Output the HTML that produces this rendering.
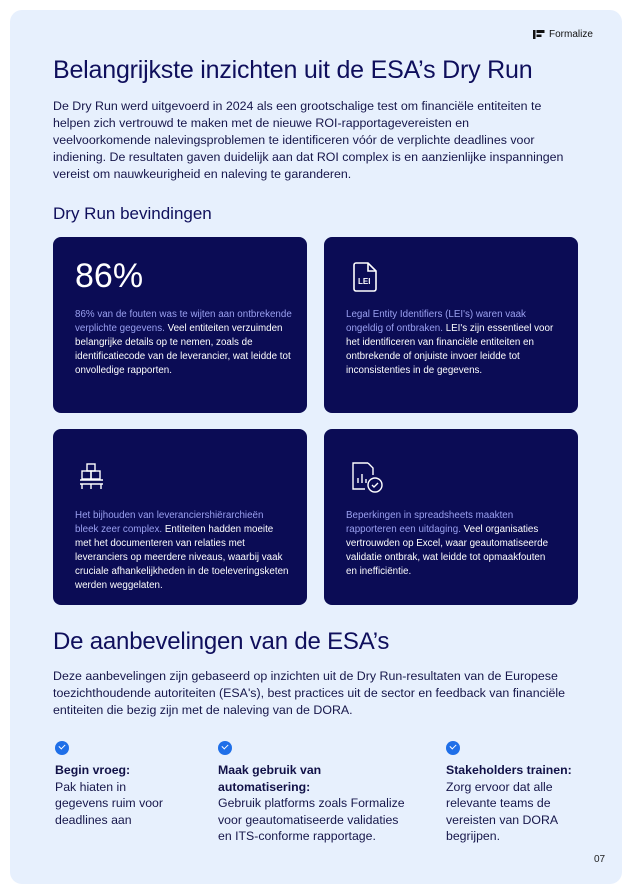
<!DOCTYPE html>
<html><head><meta charset="utf-8"><style>
*{margin:0;padding:0;box-sizing:border-box}
body{width:632px;height:894px;background:#fff;font-family:"Liberation Sans",sans-serif;color:#13134f;position:relative;overflow:hidden}
.page{position:absolute;left:10px;top:10px;width:612px;height:874px;background:#e7f0fd;border-radius:12px}
.a{position:absolute}
h1{font-weight:400;font-size:25px;color:#0f0f5c;letter-spacing:-0.2px}
.p{font-size:12.4px;line-height:17px;color:#16164a}
.card{position:absolute;background:#0b0c55;border-radius:8px;width:254px;height:176px}
.ct{position:absolute;left:22px;width:210px;font-size:9.8px;line-height:14px;color:#fff}
.ct span{color:#9aa0f0}
.chk{position:absolute;width:14px;height:14px;border-radius:50%;background:#1f6fe8}
.chk:after{content:"";position:absolute;left:4px;top:3px;width:5px;height:3px;border-left:1.6px solid #fff;border-bottom:1.6px solid #fff;transform:rotate(-45deg)}
.col{position:absolute;top:762px;font-size:12.3px;line-height:16.5px;color:#16164a}
.col b{color:#111147}
</style></head><body>
<div class="page"></div>
<div class="a" style="left:533px;top:29px;font-size:10px;color:#111;display:flex;align-items:center;gap:4px">
<svg width="12" height="9" viewBox="0 0 12 9"><rect x="0" y="0" width="2.5" height="9" fill="#111"/><rect x="3.5" y="0" width="8" height="3" fill="#111"/><rect x="3.5" y="4.5" width="5" height="2.5" fill="#111"/></svg>Formalize</div>
<h1 class="a" style="left:53px;top:56px">Belangrijkste inzichten uit de ESA’s Dry Run</h1>
<div class="a p" style="left:53px;top:98px;width:512px">De Dry Run werd uitgevoerd in 2024 als een grootschalige test om financiële entiteiten te helpen zich vertrouwd te maken met de nieuwe ROI-rapportagevereisten en veelvoorkomende nalevingsproblemen te identificeren vóór de verplichte deadlines voor indiening. De resultaten gaven duidelijk aan dat ROI complex is en aanzienlijke inspanningen vereist om nauwkeurigheid en naleving te garanderen.</div>
<div class="a" style="left:53px;top:204px;font-size:17px;color:#0f0f5c">Dry Run bevindingen</div>

<div class="card" style="left:53px;top:237px">
<div class="a" style="left:22px;top:20px;font-size:34px;color:#fff">86%</div>
<div class="ct" style="top:71px;width:226px"><span>86% van de fouten was te wijten aan ontbrekende verplichte gegevens.</span> Veel entiteiten verzuimden belangrijke details op te nemen, zoals de identificatiecode van de leverancier, wat leidde tot onvolledige rapporten.</div>
</div>
<div class="card" style="left:324px;top:237px">
<svg class="a" style="left:28px;top:25px" width="26" height="30" viewBox="0 0 26 30"><path d="M2 3a2 2 0 0 1 2-2h12l8 8v18a2 2 0 0 1-2 2H4a2 2 0 0 1-2-2z" fill="none" stroke="#fff" stroke-width="1.6"/><path d="M16 1v8h8" fill="none" stroke="#fff" stroke-width="1.6"/><text x="6" y="22" font-size="8" font-weight="bold" fill="#fff" font-family="Liberation Sans">LEI</text></svg>
<div class="ct" style="top:71px"><span>Legal Entity Identifiers (LEI's) waren vaak ongeldig of ontbraken.</span> LEI's zijn essentieel voor het identificeren van financiële entiteiten en ontbrekende of onjuiste invoer leidde tot inconsistenties in de gegevens.</div>
</div>
<div class="card" style="left:53px;top:429px">
<svg class="a" style="left:26px;top:34px" width="26" height="28" viewBox="0 0 26 28" fill="none" stroke="#fff" stroke-width="1.4"><rect x="8" y="1" width="8" height="7"/><rect x="3" y="8" width="9" height="8"/><rect x="12" y="8" width="9" height="8"/><path d="M1 17h23M1 21h23M3 21v5M12 21v5M22 21v5"/></svg>
<div class="ct" style="top:80px;width:214px"><span>Het bijhouden van leveranciershiërarchieën bleek zeer complex.</span> Entiteiten hadden moeite met het documenteren van relaties met leveranciers op meerdere niveaus, waarbij vaak cruciale afhankelijkheden in de toeleveringsketen werden weggelaten.</div>
</div>
<div class="card" style="left:324px;top:429px">
<svg class="a" style="left:26px;top:32px" width="34" height="32" viewBox="0 0 34 32" fill="none" stroke="#fff" stroke-width="1.4"><path d="M18 2H3v26h12"/><path d="M18 2l5 5v7"/><path d="M8 22v-5M12 22v-9M16 22v-4"/><circle cx="25" cy="24" r="7"/><path d="M22 24l2 2 4-4"/></svg>
<div class="ct" style="top:80px"><span>Beperkingen in spreadsheets maakten rapporteren een uitdaging.</span> Veel organisaties vertrouwden op Excel, waar geautomatiseerde validatie ontbrak, wat leidde tot opmaakfouten en inefficiëntie.</div>
</div>

<h1 class="a" style="left:53px;top:628px;font-size:24px">De aanbevelingen van de ESA’s</h1>
<div class="a p" style="left:53px;top:668px;width:535px">Deze aanbevelingen zijn gebaseerd op inzichten uit de Dry Run-resultaten van de Europese toezichthoudende autoriteiten (ESA's), best practices uit de sector en feedback van financiële entiteiten die bezig zijn met de naleving van de DORA.</div>

<div class="chk" style="left:55px;top:741px"></div>
<div class="chk" style="left:218px;top:741px"></div>
<div class="chk" style="left:446px;top:741px"></div>
<div class="col" style="left:55px;width:118px"><b>Begin vroeg:</b><br>Pak hiaten in gegevens ruim voor deadlines aan</div>
<div class="col" style="left:218px;width:194px"><b>Maak gebruik van automatisering:</b><br>Gebruik platforms zoals Formalize voor geautomatiseerde validaties en ITS-conforme rapportage.</div>
<div class="col" style="left:446px;width:140px"><b>Stakeholders trainen:</b><br>Zorg ervoor dat alle relevante teams de vereisten van DORA begrijpen.</div>
<div class="a" style="left:594px;top:854px;font-size:10px;color:#222">07</div>
</body></html>
